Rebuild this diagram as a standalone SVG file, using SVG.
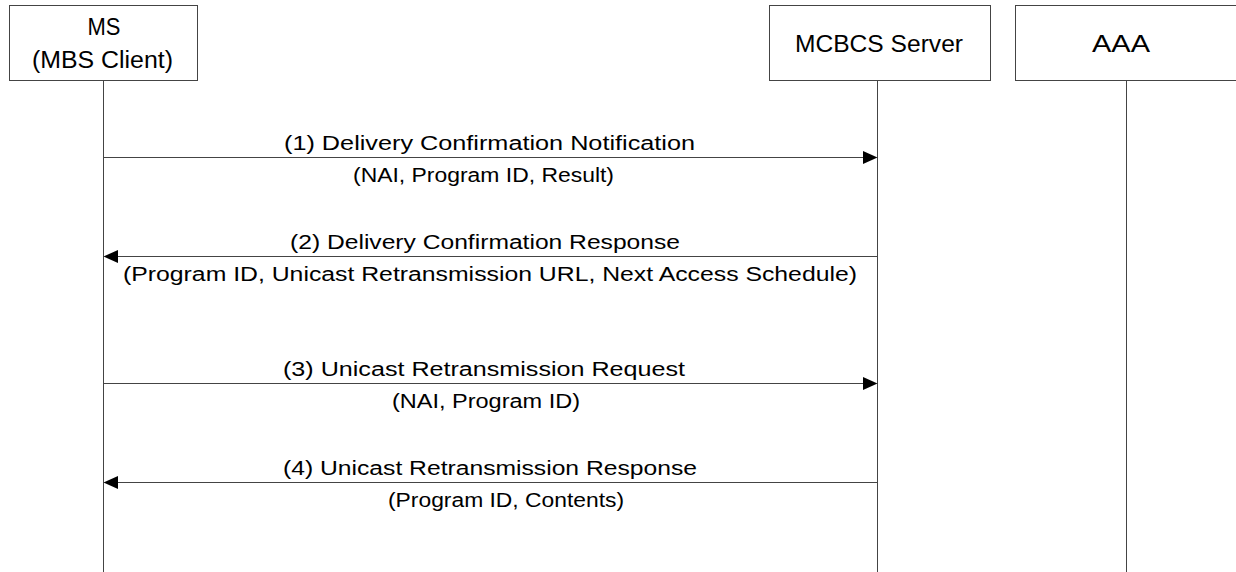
<svg xmlns="http://www.w3.org/2000/svg" width="1236" height="572" viewBox="0 0 1236 572">
  <defs>
    <style>
      .box { fill: #ffffff; stroke: #444444; stroke-width: 1; }
      .life { stroke: #444444; stroke-width: 1; fill: none; }
      .msg { stroke: #444444; stroke-width: 1; fill: none; }
      .head { fill: #000000; stroke: none; }
      .nt { font-family: "Liberation Sans", Arial, sans-serif; font-size: 23px; fill: #000000; }
      .lbl { font-family: "Liberation Sans", Arial, sans-serif; font-size: 20px; fill: #000000; }
    </style>
  </defs>
  <rect x="0" y="0" width="1236" height="572" fill="#ffffff"/>

  <g id="node-ms">
    <rect class="box" x="9.5" y="5.5" width="188" height="75"/>
    <text class="nt" x="87.5" y="35" textLength="33" lengthAdjust="spacingAndGlyphs">MS</text>
    <text class="nt" x="32" y="68" textLength="141" lengthAdjust="spacingAndGlyphs">(MBS Client)</text>
    <line class="life" x1="103.5" y1="80.5" x2="103.5" y2="572"/>
  </g>

  <g id="node-mcbcs">
    <rect class="box" x="769.5" y="5.5" width="221" height="75"/>
    <text class="nt" x="795" y="52" textLength="168" lengthAdjust="spacingAndGlyphs">MCBCS Server</text>
    <line class="life" x1="877.5" y1="80.5" x2="877.5" y2="572"/>
  </g>

  <g id="node-aaa">
    <rect class="box" x="1015.5" y="5.5" width="230" height="75"/>
    <text class="nt" x="1092" y="52" textLength="58" lengthAdjust="spacingAndGlyphs">AAA</text>
    <line class="life" x1="1126.5" y1="80.5" x2="1126.5" y2="572"/>
  </g>

  <g id="connectors">
    <g id="msg1">
      <line class="msg" x1="103.5" y1="157.5" x2="864" y2="157.5"/>
      <polygon class="head" points="863,151 877.5,157.5 863,164"/>
      <text class="lbl" x="284" y="149.5" textLength="411" lengthAdjust="spacingAndGlyphs">(1) Delivery Confirmation Notification</text>
      <text class="lbl" x="353" y="181.5" textLength="261" lengthAdjust="spacingAndGlyphs">(NAI, Program ID, Result)</text>
    </g>
    <g id="msg2">
      <line class="msg" x1="117" y1="256.5" x2="877.5" y2="256.5"/>
      <polygon class="head" points="118,250 103.5,256.5 118,263"/>
      <text class="lbl" x="290" y="248.5" textLength="390" lengthAdjust="spacingAndGlyphs">(2) Delivery Confirmation Response</text>
      <text class="lbl" x="123" y="280.5" textLength="734" lengthAdjust="spacingAndGlyphs">(Program ID, Unicast Retransmission URL, Next Access Schedule)</text>
    </g>
    <g id="msg3">
      <line class="msg" x1="103.5" y1="383.5" x2="864" y2="383.5"/>
      <polygon class="head" points="863,377 877.5,383.5 863,390"/>
      <text class="lbl" x="283" y="375.5" textLength="402" lengthAdjust="spacingAndGlyphs">(3) Unicast Retransmission Request</text>
      <text class="lbl" x="392" y="407.5" textLength="188" lengthAdjust="spacingAndGlyphs">(NAI, Program ID)</text>
    </g>
    <g id="msg4">
      <line class="msg" x1="117" y1="482.5" x2="877.5" y2="482.5"/>
      <polygon class="head" points="118,476 103.5,482.5 118,489"/>
      <text class="lbl" x="283" y="474.5" textLength="414" lengthAdjust="spacingAndGlyphs">(4) Unicast Retransmission Response</text>
      <text class="lbl" x="388" y="506.5" textLength="236" lengthAdjust="spacingAndGlyphs">(Program ID, Contents)</text>
    </g>
  </g>
</svg>
